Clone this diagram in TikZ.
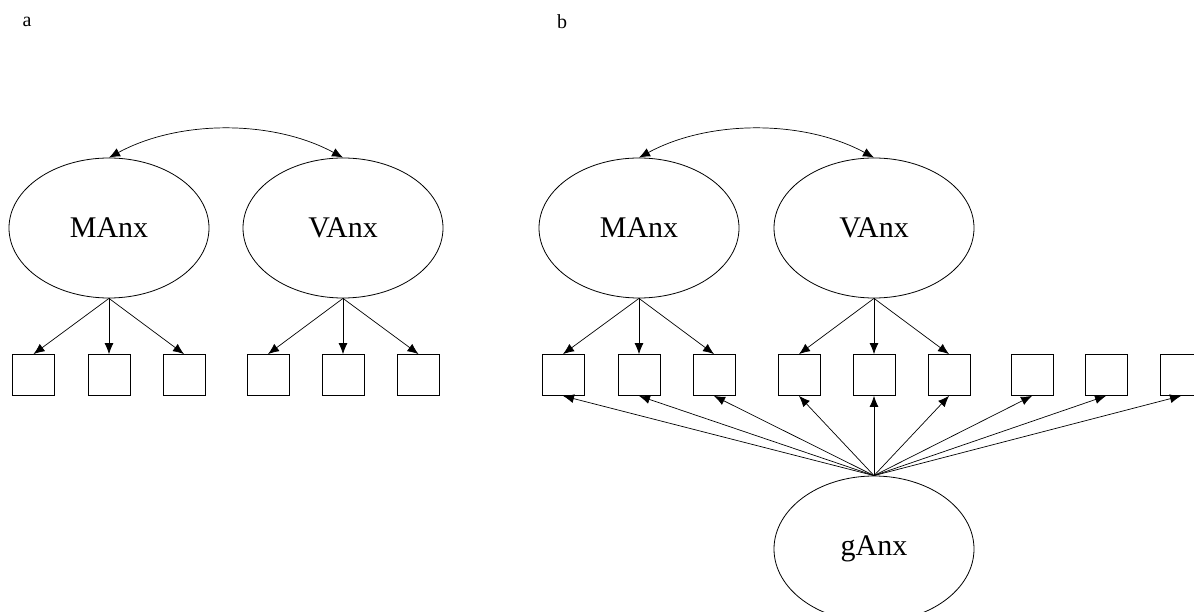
\documentclass[tikz,border=0pt]{standalone}
\usepackage{fontspec}
\setmainfont{Liberation Serif}
\usetikzlibrary{shapes.geometric,arrows.meta}

\begin{document}
\begin{tikzpicture}[x=1pt, y=-1pt,
  fak/.style={ellipse, draw, line width=0.8pt, minimum width=200pt, minimum height=140pt, inner sep=0pt, font=\fontsize{30}{36}\selectfont},
  ind/.style={rectangle, draw, line width=0.8pt, minimum width=42pt, minimum height=41pt, inner sep=0pt},
  pfeil/.style={-{Latex[length=11pt,width=9pt]}, line width=0.7pt},
  kor/.style={{Latex[length=11pt,width=9pt]}-{Latex[length=11pt,width=9pt]}, line width=0.7pt}]
\useasboundingbox (0,0) rectangle (1194,612);

% Beschriftung
\node[font=\fontsize{20}{22}\selectfont] (la) at (27,22) {a};
\node[font=\fontsize{20}{22}\selectfont] (lb) at (562,22) {b};

% Modell a: Faktoren
\node[fak] (mA) at (109,228) {MAnx};
\node[fak] (vA) at (343,228) {VAnx};
\draw[kor] (mA.north) .. controls +(70,-38) and +(-70,-38) .. (vA.north); % Korrelation

% Modell a: Indikatoren
\node[ind] (ia1) at (33.5,375) {};
\node[ind] (ia2) at (109,375) {};
\node[ind] (ia3) at (184,375) {};
\node[ind] (ia4) at (268,375) {};
\node[ind] (ia5) at (343,375) {};
\node[ind] (ia6) at (418.5,375) {};

% Modell a: Ladungen
\draw[pfeil] (mA.south) -- (ia1.north);
\draw[pfeil] (mA.south) -- (ia2.north);
\draw[pfeil] (mA.south) -- (ia3.north);
\draw[pfeil] (vA.south) -- (ia4.north);
\draw[pfeil] (vA.south) -- (ia5.north);
\draw[pfeil] (vA.south) -- (ia6.north);

% Modell b: Faktoren
\node[fak] (mB) at (639,228) {MAnx};
\node[fak] (vB) at (874,228) {VAnx};
\node[fak, minimum height=146pt] (gB) at (874,549) {gAnx};
\draw[kor] (mB.north) .. controls +(70,-38) and +(-70,-38) .. (vB.north); % Korrelation

% Modell b: Indikatoren
\node[ind] (ib1) at (563,375) {};
\node[ind] (ib2) at (639,375) {};
\node[ind] (ib3) at (714,375) {};
\node[ind] (ib4) at (799,375) {};
\node[ind] (ib5) at (874,375) {};
\node[ind] (ib6) at (949,375) {};
\node[ind] (ib7) at (1032,375) {};
\node[ind] (ib8) at (1106,375) {};
\node[ind] (ib9) at (1181,375) {}; % angeschnitten

% Modell b: spezifische Ladungen
\draw[pfeil] (mB.south) -- (ib1.north);
\draw[pfeil] (mB.south) -- (ib2.north);
\draw[pfeil] (mB.south) -- (ib3.north);
\draw[pfeil] (vB.south) -- (ib4.north);
\draw[pfeil] (vB.south) -- (ib5.north);
\draw[pfeil] (vB.south) -- (ib6.north);

% Modell b: Generalfaktor
\draw[pfeil] (gB.north) -- (ib1.south);
\draw[pfeil] (gB.north) -- (ib2.south);
\draw[pfeil] (gB.north) -- (ib3.south);
\draw[pfeil] (gB.north) -- (ib4.south);
\draw[pfeil] (gB.north) -- (ib5.south);
\draw[pfeil] (gB.north) -- (ib6.south);
\draw[pfeil] (gB.north) -- (ib7.south);
\draw[pfeil] (gB.north) -- (ib8.south);
\draw[pfeil] (gB.north) -- (ib9.south);
\end{tikzpicture}
\end{document}
